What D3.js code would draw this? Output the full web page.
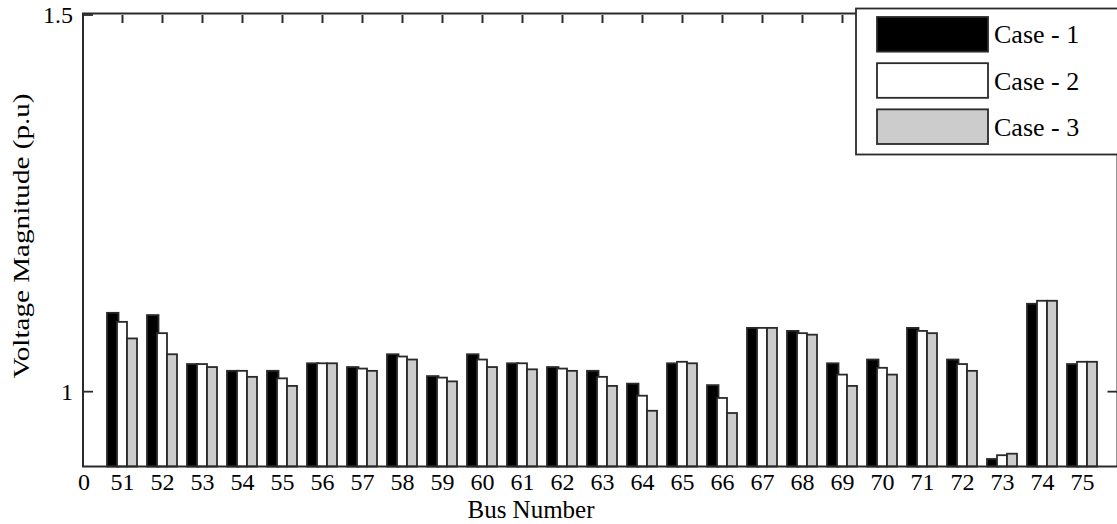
<!DOCTYPE html>
<html>
<head>
<meta charset="utf-8">
<script src="https://cdn.jsdelivr.net/npm/d3@7/dist/d3.min.js"></script>
<style>
  html, body { margin: 0; padding: 0; background: #fff; }
  svg { display: block; }
</style>
</head>
<body>
<svg id="chart" width="1117" height="524"></svg>
<script>
// ---- data ----
const buses = ["51","52","53","54","55","56","57","58","59","60","61","62","63","64","65","66","67","68","69","70","71","72","73","74","75"];
const seriesNames = ["Case - 1", "Case - 2", "Case - 3"];
const case1 = [1.104, 1.101, 1.036, 1.027, 1.027, 1.037, 1.032, 1.049, 1.020, 1.049, 1.037, 1.032, 1.027, 1.010, 1.037, 1.008, 1.084, 1.080, 1.037, 1.042, 1.084, 1.042, 0.910, 1.116, 1.036];
const case2 = [1.092, 1.077, 1.036, 1.027, 1.017, 1.037, 1.030, 1.046, 1.018, 1.042, 1.037, 1.030, 1.019, 0.994, 1.039, 0.991, 1.084, 1.077, 1.022, 1.031, 1.080, 1.036, 0.915, 1.120, 1.039];
const case3 = [1.070, 1.049, 1.032, 1.019, 1.007, 1.037, 1.027, 1.042, 1.013, 1.032, 1.029, 1.027, 1.007, 0.974, 1.037, 0.971, 1.084, 1.075, 1.007, 1.022, 1.077, 1.027, 0.917, 1.120, 1.039];
const yTicks = [1, 1.5];
const xTickLabels = ["0"].concat(buses);

// ---- layout ----
const FONT = '"Liberation Serif", "Times New Roman", Times, "DejaVu Serif", serif';
const svg = d3.select("#chart");
const pL = 83, pR = 1117.5, pT = 13.5, pB = 466.5;
const fills = ["#000000", "#ffffff", "#cccccc"];
const EDGE = "#2a2a2a";

const x = d3.scaleLinear().domain([0, 26]).range([82, 1122]);
const y = d3.scaleLinear().domain([0.9, 1.5]).range([pB, 14.5]);
const sub = d3.scaleBand().domain(seriesNames).range([-15, 15]).paddingInner(0);

const allSeries = [case1, case2, case3];

// bars
const g = svg.append("g");
allSeries.forEach((vals, si) => {
  const extra = si === 0 ? 1.5 : 0;
  g.selectAll(null)
    .data(vals)
    .enter()
    .append("rect")
    .attr("x", (d, i) => x(i + 1) + sub(seriesNames[si]))
    .attr("width", sub.bandwidth() + extra)
    .attr("y", d => y(d))
    .attr("height", d => y(0.9) - y(d))
    .attr("fill", fills[si])
    .attr("stroke", EDGE)
    .attr("stroke-width", 1.8);
});

// frame
svg.append("rect")
  .attr("x", pL).attr("y", pT)
  .attr("width", pR - pL).attr("height", pB - pT)
  .attr("fill", "none").attr("stroke", EDGE).attr("stroke-width", 2);

// left axis
const yAxis = d3.axisLeft(y).tickValues(yTicks).tickSize(-10).tickPadding(10).tickFormat(d3.format(""));
const ya = svg.append("g").attr("transform", `translate(${pL},0)`).call(yAxis);
ya.attr("font-family", null);
ya.select(".domain").remove();
ya.selectAll("line").attr("stroke", EDGE).attr("stroke-width", 1.8);
ya.selectAll("text").style("font-family", FONT).style("font-size", "24px").attr("dy", "0.33em").attr("fill", "#000");

// right axis ticks
const yr = svg.append("g").attr("transform", `translate(${pR},0)`).call(d3.axisRight(y).tickValues(yTicks).tickSize(-10).tickFormat(""));
yr.select(".domain").remove();
yr.selectAll("line").attr("stroke", EDGE).attr("stroke-width", 1.8);

// top ticks
const xt = svg.append("g").attr("transform", `translate(0,${pT + 1.5})`).call(d3.axisTop(x).tickValues(d3.range(1, 26)).tickSize(-8).tickFormat(""));
xt.select(".domain").remove();
xt.selectAll("line").attr("stroke", EDGE).attr("stroke-width", 2);

// bottom axis labels
const xb = svg.append("g").attr("transform", `translate(0,${pB})`).call(d3.axisBottom(x).tickValues(d3.range(0, 26)).tickSize(0).tickPadding(6).tickFormat(i => xTickLabels[i]));
xb.attr("font-family", null);
xb.select(".domain").remove();
xb.selectAll("text").style("font-family", FONT).style("font-size", "24px").attr("fill", "#000");
xb.selectAll(".tick").filter(d => d === 0).attr("transform", `translate(${pL + 1},0)`);

// axis titles
svg.append("text").attr("x", 531).attr("y", 518).attr("text-anchor", "middle")
  .style("font-family", FONT).style("font-size", "25px").text("Bus Number");
svg.append("text").attr("transform", "translate(29,236) rotate(-90)").attr("text-anchor", "middle")
  .attr("textLength", 285).attr("lengthAdjust", "spacingAndGlyphs")
  .style("font-family", FONT).style("font-size", "23px").text("Voltage Magnitude (p.u)");

// legend
const lg = svg.append("g");
lg.append("rect").attr("x", 856).attr("y", 8.5).attr("width", 280).attr("height", 146)
  .attr("fill", "#fff").attr("stroke", EDGE).attr("stroke-width", 1.8);
const legY = d3.scaleBand().domain(seriesNames).range([17, 144]).paddingInner(0.25);
seriesNames.forEach((name, i) => {
  lg.append("rect").attr("x", 877).attr("y", legY(name)).attr("width", 111).attr("height", legY.bandwidth())
    .attr("fill", fills[i]).attr("stroke", EDGE).attr("stroke-width", 1.8);
  lg.append("text").attr("x", 994).attr("y", legY(name) + legY.bandwidth() / 2).attr("dy", "0.35em")
    .style("font-family", FONT).style("font-size", "26px").text(name);
});
</script>
</body>
</html>
